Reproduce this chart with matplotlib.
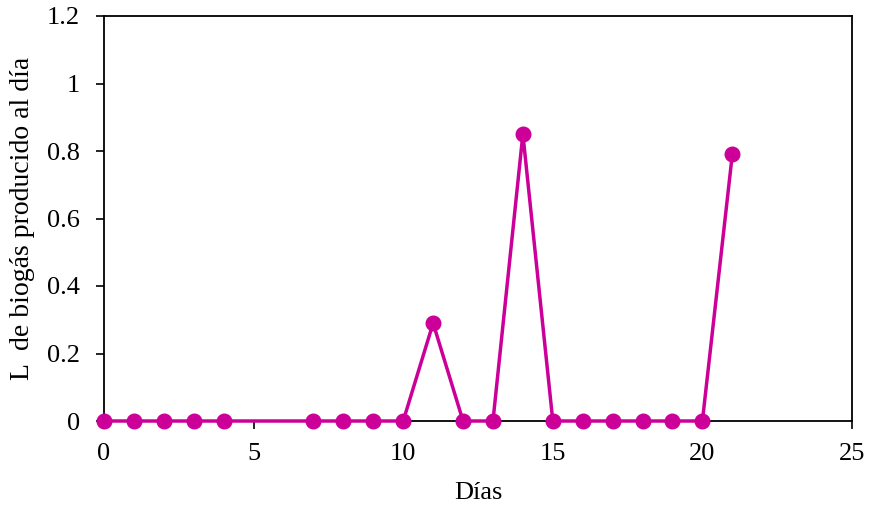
import matplotlib
matplotlib.use("Agg")
import matplotlib.pyplot as plt

# Daily biogas production
dias = [0, 1, 2, 3, 4, 7, 8, 9, 10, 11, 12, 13, 14, 15, 16, 17, 18, 19, 20, 21]
litros = [0, 0, 0, 0, 0, 0, 0, 0, 0, 0.29, 0, 0, 0.85, 0, 0, 0, 0, 0, 0, 0.79]

x_ticks = [0, 5, 10, 15, 20, 25]
y_ticks = [0, 0.2, 0.4, 0.6, 0.8, 1, 1.2]
y_tick_labels = ["0", "0.2", "0.4", "0.6", "0.8", "1", "1.2"]

plt.rcParams["font.family"] = ["Liberation Serif", "DejaVu Serif"]

fig = plt.figure(figsize=(8.71, 5.12), dpi=100)
ax = fig.add_axes([104 / 871, 1 - 421 / 512, (852 - 104) / 871, (421 - 16) / 512])

color = "#CC0099"
ax.plot(dias, litros, color=color, linewidth=2.5, marker="o", markersize=10.5,
        clip_on=False, zorder=3)

ax.set_xlim(0, 25)
ax.set_ylim(0, 1.2)
ax.set_xticks(x_ticks)
ax.set_yticks(y_ticks)
ax.set_yticklabels(y_tick_labels)
ax.tick_params(axis="both", direction="out", length=5.5, width=1.2,
               labelsize=19, colors="black")
ax.tick_params(axis="x", pad=10.5)
ax.tick_params(axis="y", pad=12)

for side in ["left", "right", "top", "bottom"]:
    ax.spines[side].set_linewidth(1.3)
    ax.spines[side].set_color("black")

ax.set_xlabel("Días", fontsize=19, labelpad=12)
ax.set_ylabel("L  de biogás producido al día", fontsize=20, labelpad=8)

fig.savefig("out.png", dpi=100)
